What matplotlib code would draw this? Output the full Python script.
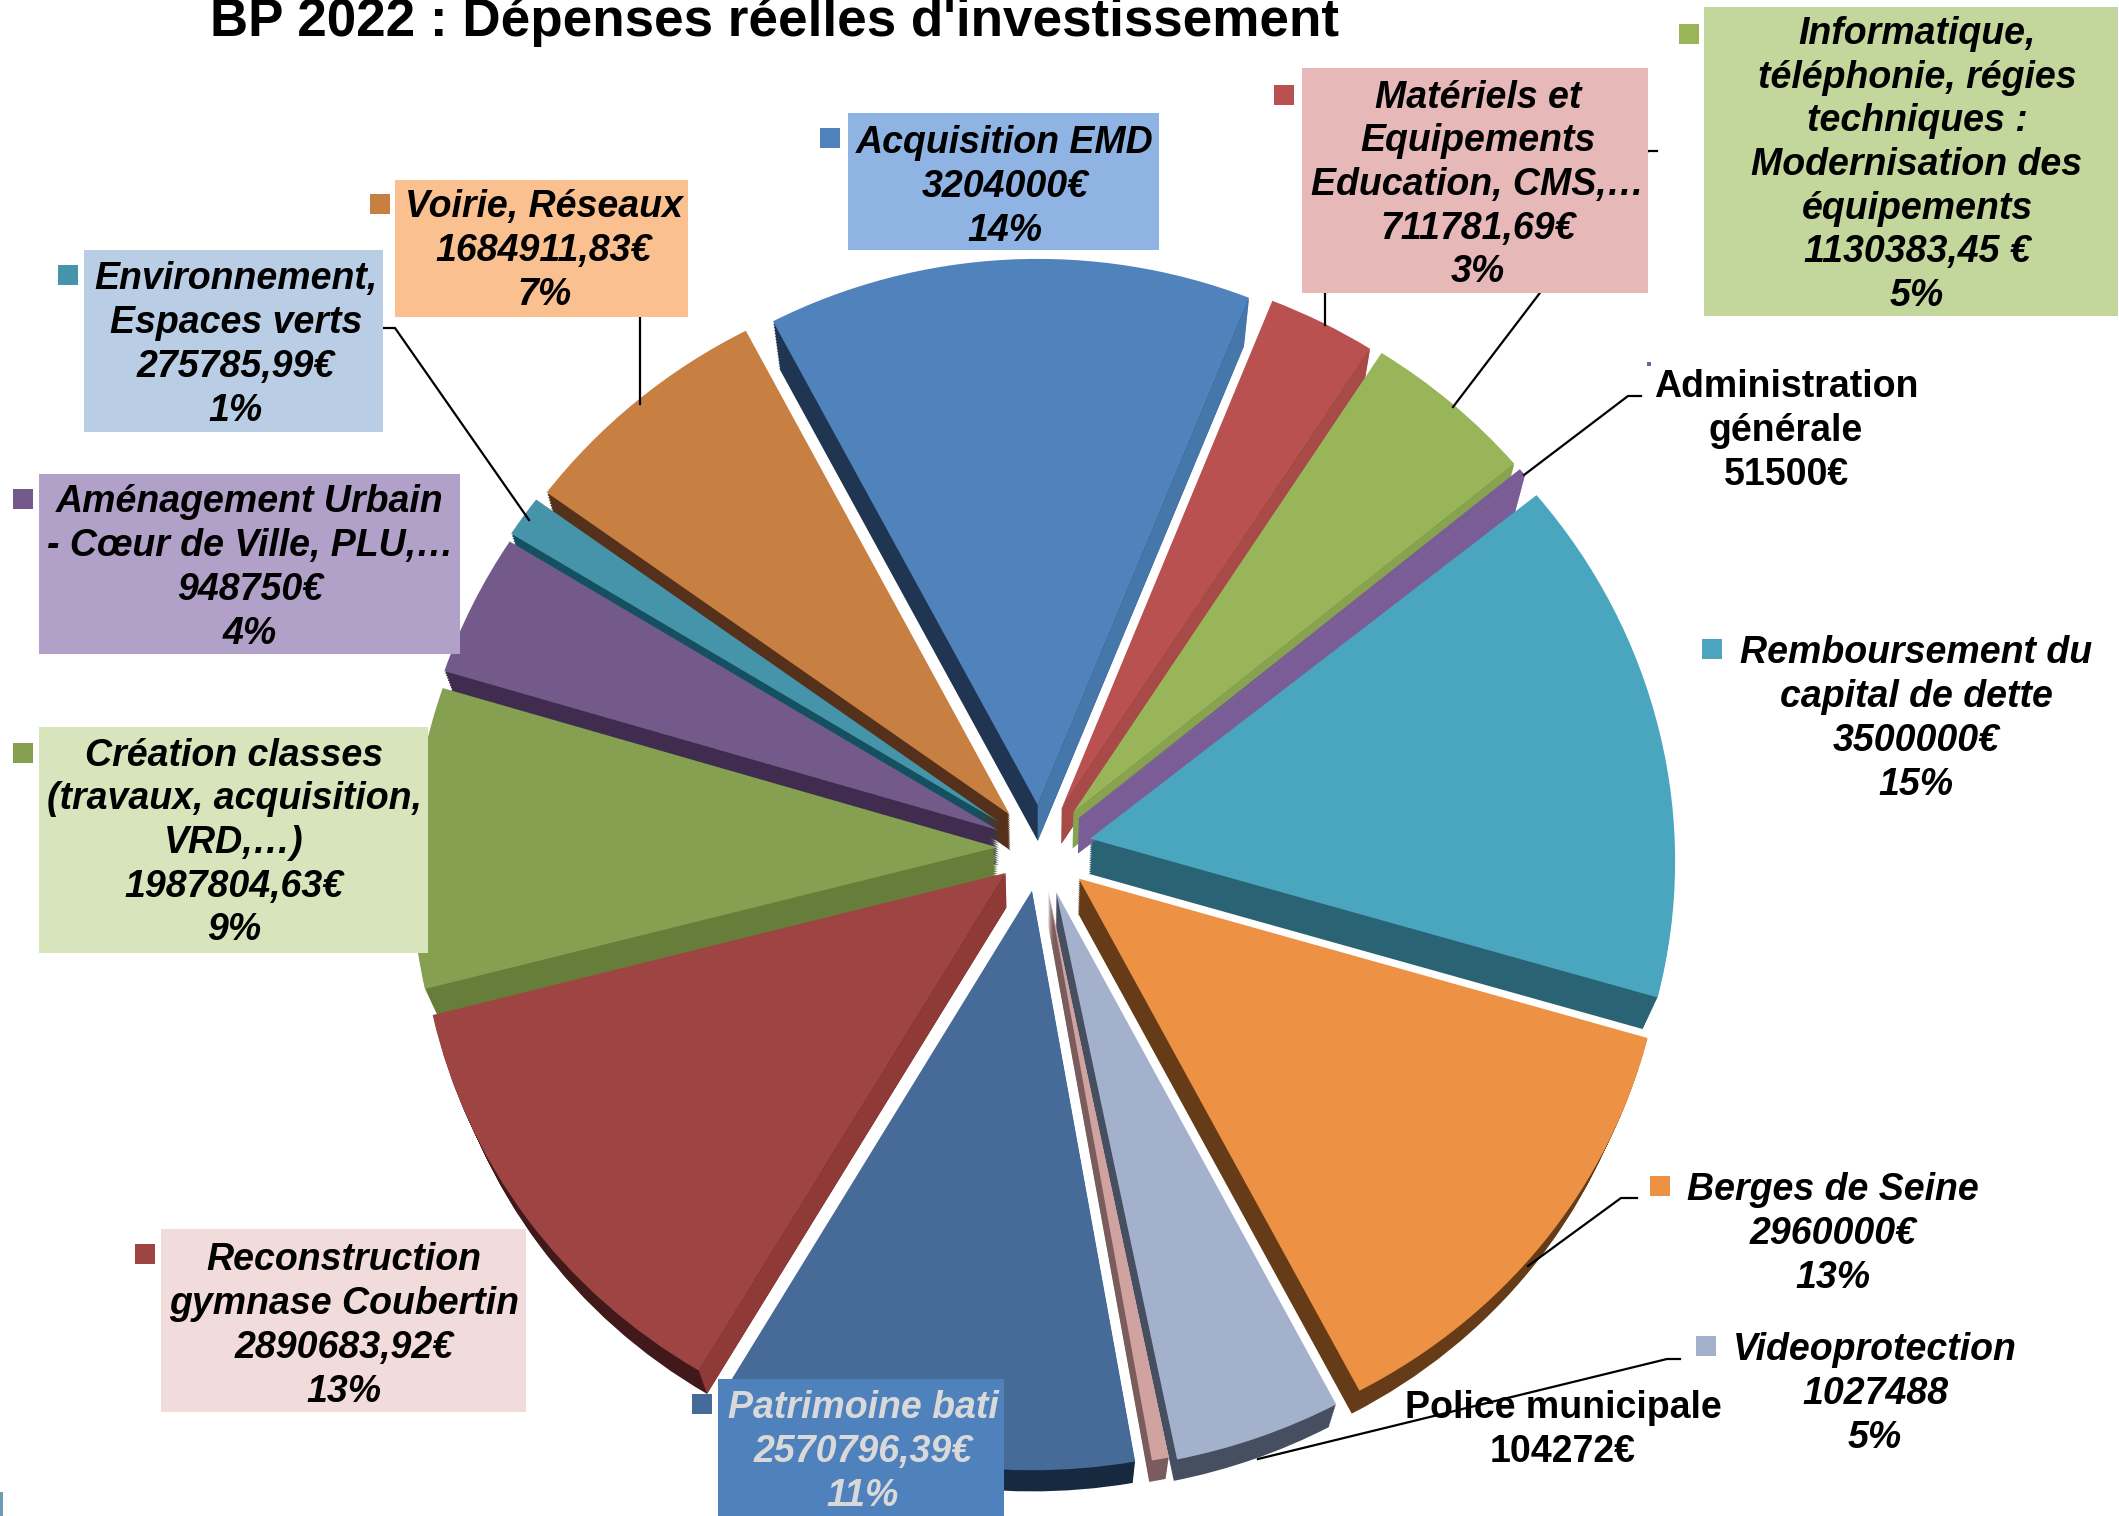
import numpy as np
import matplotlib
matplotlib.use('Agg')
import matplotlib.pyplot as plt
from matplotlib.patches import Rectangle, Polygon
from matplotlib.transforms import Transform

plt.rcParams['font.family'] = ['Liberation Sans', 'DejaVu Sans']

W, H = 2119, 1516

# donnees (ordre horaire a partir de Acquisition EMD)
noms = ['Acquisition EMD', 'Matériels et\nEquipements\nEducation, CMS,…',
        'Informatique,\ntéléphonie, régies\ntechniques :\nModernisation des\néquipements',
        'Administration\ngénérale', 'Remboursement du\ncapital de dette', 'Berges de Seine',
        'Videoprotection', 'Police municipale', 'Patrimoine bati',
        'Reconstruction\ngymnase Coubertin', 'Création classes\n(travaux, acquisition,\nVRD,…)',
        'Aménagement Urbain\n- Cœur de Ville, PLU,…', 'Environnement,\nEspaces verts', 'Voirie, Réseaux']
valeurs = [3204000, 711781.69, 1130383.45, 51500, 3500000, 2960000, 1027488, 104272,
           2570796.39, 2890683.92, 1987804.63, 948750, 275785.99, 1684911.83]
montants = ['3204000€', '711781,69€', '1130383,45 €', '51500€', '3500000€', '2960000€', '1027488',
            '104272€', '2570796,39€', '2890683,92€', '1987804,63€', '948750€', '275785,99€', '1684911,83€']
pourcents = ['14%', '3%', '5%', None, '15%', '13%', '5%', None, '11%', '13%', '9%', '4%', '1%', '7%']

# couleurs
c_face = ['#5082bc', '#b85150', '#98b55a', '#7a5d96', '#4aa6bf', '#ed9245', '#a3b1cd',
          '#d0a3a1', '#466b99', '#9e4543', '#84a050', '#735a8a', '#4694a9', '#c87f42']
c_mur = ['#1f3552', '#6f2d2c', '#5f7535', '#7a5d96', '#2a6373', '#663c18', '#454f60',
         '#7a5c5c', '#17293f', '#42191a', '#677e3a', '#3f2c4e', '#155060', '#55301a']
c_mur_droit = ['#4677ab', '#a84a48', '#87a34f', '#7a5d96', None, None, None,
               None, None, '#903a38', None, None, None, None]
c_boite = ['#8fb4e3', '#e6b8b7', '#c3d69b', None, None, None, None,
           None, '#4f81bd', '#f2dcdb', '#d8e4bc', '#b1a0c7', '#b9cde5', '#fac090']
c_texte = ['black'] * 14
c_texte[8] = '#d9d9d9'
italique = ['italic'] * 14
italique[3] = 'normal'
italique[7] = 'normal'

# position des etiquettes (pixels, y vers le bas)
txt_x = [1005, 1478, 1917, 1786, 1916, 1833, 1875, 1563, 863, 344, 234, 250, 236, 544]
txt_y = [187, 185, 165, 431, 719, 1234, 1394, 1430, 1452, 1326, 843, 568, 345, 251]
boites = [(848, 113, 1159, 250), (1302, 68, 1648, 293), (1704, 7, 2118, 316), None, None, None, None,
          None, (718, 1379, 1004, 1516), (161, 1229, 526, 1412), (39, 727, 428, 953),
          (39, 474, 460, 654), (84, 250, 383, 432), (395, 180, 688, 317)]
reperes = [(820, 128), (1274, 85), (1679, 24), (1647, 362), (1702, 639), (1650, 1176), (1696, 1336),
           None, (692, 1394), (135, 1244), (13, 743), (13, 489), (58, 265), (370, 194)]

traits = [[(1325, 293), (1325, 325)],
          [(1657, 151), (1648, 151), (1453, 407)],
          [(1641, 396), (1628, 396), (1524, 475)],
          [(1637, 1198), (1621, 1198), (1528, 1266)],
          [(1680, 1359), (1667, 1359), (1258, 1459)],
          [(384, 328), (395, 328), (529, 520)],
          [(640, 317), (640, 404)]]

cx, cy = 1040, H - 848
rayon = 585
ecart = [45, 47, 50, 50, 51, 50, 48, 44, 45, 43, 43, 46, 49, 46]
depart = 118


# petite perspective : le haut est plus loin, le fond descend
class Vue(Transform):
    input_dims = 2
    output_dims = 2

    def __init__(self, prof=0.0):
        super().__init__()
        self.prof = prof

    def transform_non_affine(self, xy):
        xy = np.asarray(xy, dtype=float)
        dx = xy[:, 0] - cx
        dy = xy[:, 1] - cy
        y2 = 0.962 * dy - 4.26e-5 * dy * dy
        x2 = dx * (1 - 0.04 * dy / 625) * (1 - 0.024 * self.prof)
        dec = self.prof * (35 + 0.022 * dy)
        return np.column_stack([cx + x2, cy + y2 - dec])


fig = plt.figure(figsize=(W / 100, H / 100), dpi=100)
ax = fig.add_axes([0, 0, 1, 1])


def camembert(couleurs, prof):
    parts, _ = ax.pie(valeurs, explode=ecart, colors=couleurs, startangle=depart, counterclock=False,
                      radius=rayon, center=(cx, cy), wedgeprops={'linewidth': 0})
    for p in parts:
        p.set_transform(Vue(prof) + ax.transData)
    return parts


# epaisseur : plusieurs couches du fond vers le dessus
for prof in np.linspace(1, 0.06, 16):
    camembert(c_mur, prof)

# murs droits plus clairs
fracs = np.array(valeurs) / sum(valeurs)
cumul = np.concatenate([[0], np.cumsum(fracs)])
for i, coul in enumerate(c_mur_droit):
    if coul is None:
        continue
    a1 = np.radians(depart - 360 * cumul[i])
    a2 = np.radians(depart - 360 * cumul[i + 1])
    m = (a1 + a2) / 2
    a = a1 if np.cos(a1) > np.cos(a2) else a2
    pointe = (cx + ecart[i] * np.cos(m), cy + ecart[i] * np.sin(m))
    coin = (pointe[0] + rayon * np.cos(a), pointe[1] + rayon * np.sin(a))
    pts = np.array([pointe, coin])
    haut = Vue(0).transform(pts)
    bas = Vue(1).transform(pts)
    ax.add_patch(Polygon([haut[0], haut[1], bas[1], bas[0]], closed=True, facecolor=coul, linewidth=0))

camembert(c_face, 0)

# traits de rappel
for t in traits:
    ax.plot([p[0] for p in t], [H - p[1] for p in t], color='black', lw=1.6, zorder=2)

# etiquettes
for i in range(len(noms)):
    if boites[i] is not None:
        x0, y0, x1, y1 = boites[i]
        ax.add_patch(Rectangle((x0, H - y1), x1 - x0, y1 - y0, facecolor=c_boite[i], linewidth=0, zorder=3))
    if reperes[i] is not None:
        x0, y0 = reperes[i]
        taille = 4 if i == 3 else 20
        ax.add_patch(Rectangle((x0, H - y0 - taille), taille, taille, facecolor=c_face[i], linewidth=0, zorder=3))
    lignes = [noms[i], montants[i]]
    if pourcents[i] is not None:
        lignes.append(pourcents[i])
    ax.text(txt_x[i], H - txt_y[i], '\n'.join(lignes), ha='center', va='center', ma='center',
            fontsize=27, fontweight='bold', fontstyle=italique[i], color=c_texte[i],
            linespacing=1.275, zorder=4)

ax.text(774, H - 36, "BP 2022 : Dépenses réelles d'investissement", ha='center', va='baseline',
        fontsize=38.2, fontweight='bold', color='black', zorder=4)

# reste du cadre en bas a gauche
ax.add_patch(Rectangle((0, 0), 3, 24, facecolor='#6f9bb5', linewidth=0))

ax.set_xlim(0, W)
ax.set_ylim(0, H)
ax.set_aspect('auto')
ax.axis('off')

fig.savefig('out.png', dpi=100, facecolor='white')
